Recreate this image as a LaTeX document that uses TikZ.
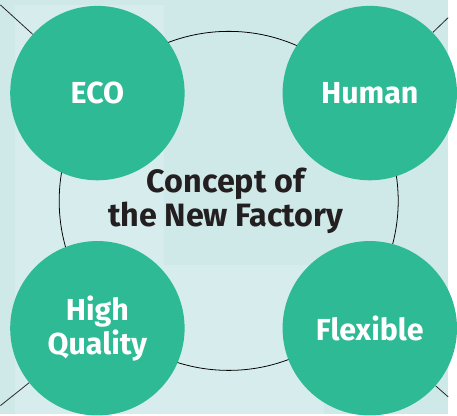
\documentclass[tikz,border=0pt]{standalone}
\usepackage{fontspec}
\setmainfont{Fira Sans}
\usetikzlibrary{positioning, backgrounds}

\definecolor{bgteal}{HTML}{CFE8E8}
\definecolor{bglight}{HTML}{D7EDED}
\definecolor{factgreen}{HTML}{2EBA94}
\definecolor{inkdark}{HTML}{231F20}

\begin{document}
\begin{tikzpicture}[
    x=1pt, y=-1pt,
    % styles
    pillar/.style={circle, fill=factgreen, minimum size=178pt, inner sep=0pt,
        align=center, text=white, font=\bfseries\fontsize{31}{35}\selectfont},
    core/.style={circle, draw=black, line width=0.8pt, minimum size=346pt, inner sep=0pt},
    title/.style={align=center, text=inkdark, font=\bfseries\fontsize{33}{34}\selectfont},
    spoke/.style={line width=0.8pt, color=black!85}
]

% --- background ---
\begin{scope}[on background layer]
    \fill[bgteal] (0,0) rectangle (457,423);
    \fill[bglight] (15,5) rectangle (167,423);
    \fill[bglight] (167,270) rectangle (330,423);
\end{scope}

% --- central circle ---
\node[core] (core) at (233,205) {};
\node[title] (title) at (230,205) {Concept of\\the New Factory};

% --- four pillars ---
\node[pillar] (eco) at (99,95) {ECO};
\node[pillar] (human) at (377,95) {Human};
\node[pillar] (quality) at (99,335) {High\\Quality};
\node[pillar] (flexible) at (377,335) {Flexible};

% --- corner spokes ---
\coordinate (tl) at (0,5);
\coordinate (tr) at (457,18);
\coordinate (bl) at (0,414);
\coordinate (br) at (457,405);

\begin{scope}[on background layer]
    \draw[spoke] (eco) -- (tl);
    \draw[spoke] (human) -- (tr);
    \draw[spoke] (quality) -- (bl);
    \draw[spoke] (flexible) -- (br);
\end{scope}

\useasboundingbox (0,0) rectangle (457,423);
\end{tikzpicture}
\end{document}
